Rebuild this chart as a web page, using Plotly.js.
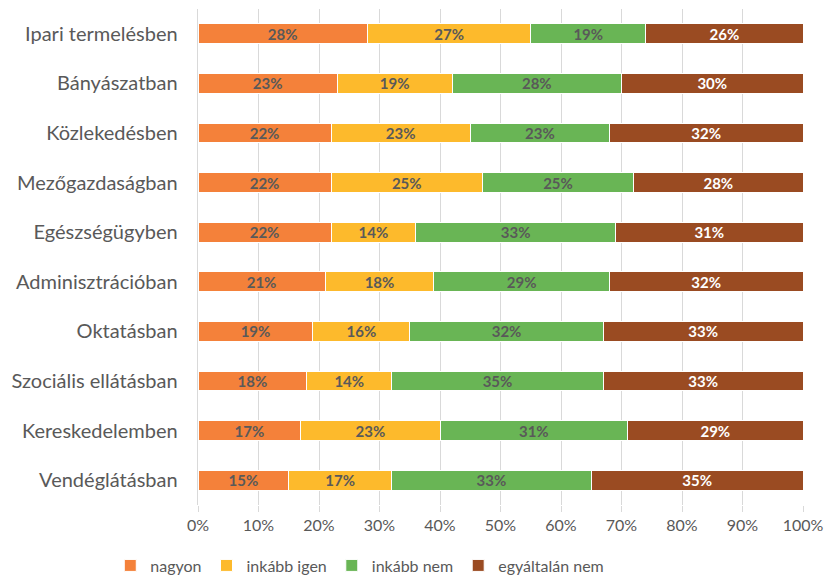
<!DOCTYPE html>
<html>
<head>
<meta charset="utf-8">
<script src="https://cdn.plot.ly/plotly-3.0.1.min.js"></script>
<style>html,body{margin:0;padding:0;background:#fff;}#chart{width:826px;height:575px;}</style>
</head>
<body>
<div id="chart"></div>
<script>
const categories = ["Ipari termelésben","Bányászatban","Közlekedésben","Mezőgazdaságban","Egészségügyben","Adminisztrációban","Oktatásban","Szociális ellátásban","Kereskedelemben","Vendéglátásban"];
const nagyon = [28,23,22,22,22,21,19,18,17,15];
const inkabbIgen = [27,19,23,25,14,18,16,14,23,17];
const inkabbNem = [19,28,23,25,33,29,32,35,31,33];
const egyaltalanNem = [26,30,32,28,31,32,33,33,29,35];
const seriesNames = ["nagyon","inkább igen","inkább nem","egyáltalán nem"];
const colors = ["#F4813A","#FDBA2C","#69B555","#9A4B22"];
const labelColors = ["#595959","#595959","#595959","#FFFFFF"];
const seriesData = [nagyon, inkabbIgen, inkabbNem, egyaltalanNem];

const traces = seriesData.map((vals, i) => ({
  type: "bar",
  orientation: "h",
  name: seriesNames[i],
  y: categories,
  x: vals.map(v => v / 100),
  text: vals.map(v => v + "%"),
  textposition: "inside",
  insidetextanchor: "middle",
  constraintext: "none",
  textfont: {family: "Lato, sans-serif", size: 15, color: labelColors[i], weight: 700},
  marker: {color: colors[i], line: {color: "#FFFFFF", width: 1}},
  hoverinfo: "none"
}));

const layout = {
  width: 826, height: 575,
  barmode: "stack",
  bargap: 0.6,
  margin: {l: 198, r: 23, t: 9, b: 70, autoexpand: false},
  paper_bgcolor: "#FFFFFF",
  plot_bgcolor: "#FFFFFF",
  font: {family: "Lato, sans-serif", color: "#595959"},
  xaxis: {
    range: [0, 1],
    tickvals: [0,0.1,0.2,0.3,0.4,0.5,0.6,0.7,0.8,0.9,1],
    tickformat: ".0%",
    showgrid: true, gridcolor: "#D9D9D9", gridwidth: 1,
    zeroline: false,
    ticks: "outside", ticklen: 6, tickcolor: "#D9D9D9",
    tickfont: {size: 16, color: "#595959"},
    automargin: false,
    fixedrange: true
  },
  yaxis: {
    autorange: "reversed",
    showgrid: false,
    ticks: "outside", ticklen: 0,
    ticksuffix: "   ",
    showline: true, linecolor: "#D9D9D9",
    tickfont: {size: 20, color: "#595959"},
    automargin: false,
    fixedrange: true
  },
  legend: {
    orientation: "h",
    x: -0.145, xanchor: "left", xref: "paper",
    y: -0.122, yanchor: "middle",
    font: {size: 16, color: "#595959"},
    traceorder: "normal",
    itemwidth: 30
  },
  showlegend: true
};

Plotly.newPlot("chart", traces, layout, {displayModeBar: false, staticPlot: true});
</script>
</body>
</html>
